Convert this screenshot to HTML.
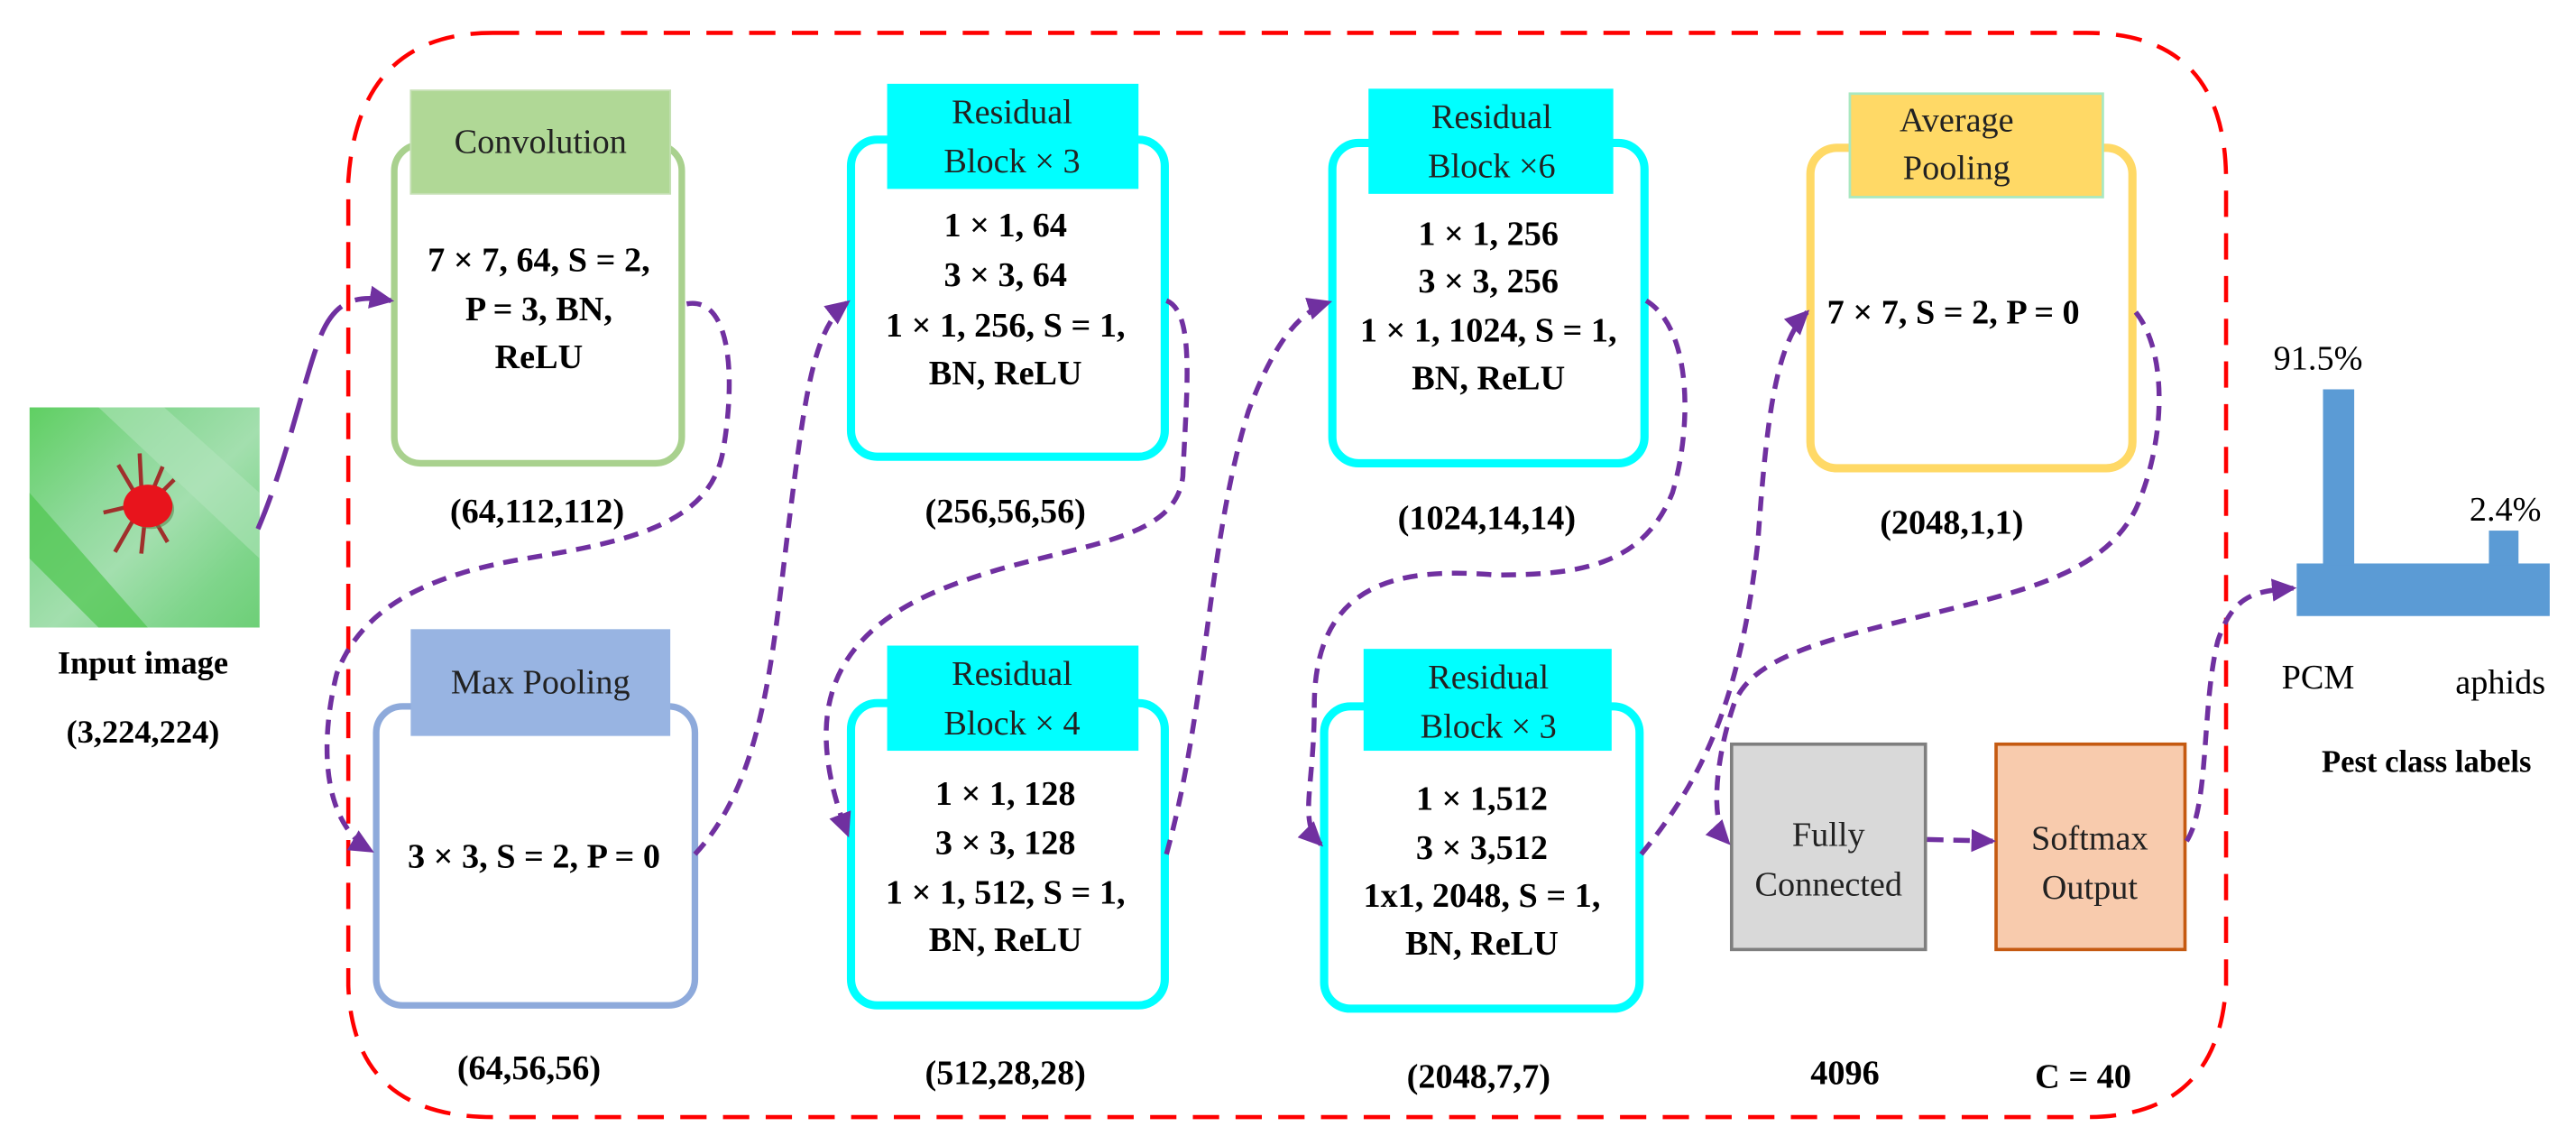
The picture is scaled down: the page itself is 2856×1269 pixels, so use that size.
<!DOCTYPE html>
<html><head><meta charset="utf-8"><style>
html,body{margin:0;padding:0;background:#fff;}
svg{display:block;}
text{font-family:"Liberation Serif",serif;}
.b{font-weight:bold;font-size:21px;fill:#000;text-anchor:middle;}
.h{font-size:21px;fill:#222;text-anchor:middle;}
</style></head><body>
<svg width="2856" height="1269" viewBox="0 0 1568 697" preserveAspectRatio="none" xmlns="http://www.w3.org/2000/svg">
<defs>
<marker id="ar2" markerWidth="16" markerHeight="16" refX="13" refY="8" orient="auto" markerUnits="userSpaceOnUse">
<path d="M0,1 L15,8 L0,15 Z" fill="#7030a0"/>
</marker>
<linearGradient id="leaf" x1="0" y1="0" x2="1" y2="1">
<stop offset="0" stop-color="#5fcf62"/><stop offset="0.35" stop-color="#8ed99a"/><stop offset="0.55" stop-color="#a3dfae"/><stop offset="0.8" stop-color="#7fd58b"/><stop offset="1" stop-color="#6dcf77"/>
</linearGradient>
</defs>
<style>.c{fill:none;stroke:#7030a0;stroke-width:3;stroke-dasharray:9,6;marker-end:url(#ar2);}</style>

<path d="M300,20 L1270,20 Q1355,20 1355,110 L1355,600 Q1350,680 1270,680 L300,680 Q215,680 212,600 L212,110 Q218,20 300,20 Z" fill="none" stroke="#ff0000" stroke-width="2.5" stroke-dasharray="16,10"/>

<rect x="18" y="248" width="140" height="134" fill="url(#leaf)"/>
<path d="M18,300 L90,382 L60,382 L18,340 Z" fill="#4fc64f" opacity="0.7"/>
<path d="M60,248 L158,340 L158,300 L100,248 Z" fill="#b6e6c0" opacity="0.5"/>
<g stroke="#a0302c" stroke-width="2.5" fill="none">
<path d="M82,300 L72,283 M86,296 L85,276 M94,296 L99,284 M80,308 L63,312 M82,315 L70,336 M88,318 L86,337 M95,318 L102,330 M98,300 L106,292"/>
</g>
<ellipse cx="92" cy="310" rx="14" ry="12" fill="#5a8a50" opacity="0.6"/>
<ellipse cx="90" cy="308" rx="15" ry="13" fill="#e8141c"/>

<text class="b" x="87" y="410" style="font-size:20px">Input image</text>
<text class="b" x="87" y="452" style="font-size:20px">(3,224,224)</text>

<rect x="240" y="88" width="175" height="194" rx="16" fill="#fff" stroke="#a9d18e" stroke-width="4"/>
<rect x="250" y="55" width="158" height="63" fill="#b0d896" stroke="#c5e0b4" stroke-width="1"/>
<text class="h" x="329" y="93">Convolution</text>
<text class="b" x="328" y="165">7 × 7, 64, S = 2,</text>
<text class="b" x="328" y="195">P = 3, BN,</text>
<text class="b" x="328" y="224">ReLU</text>
<text class="b" x="327" y="318">(64,112,112)</text>

<rect x="229" y="430" width="194" height="182" rx="16" fill="#fff" stroke="#8eaadb" stroke-width="4"/>
<rect x="250" y="383" width="158" height="65" fill="#98b4e2"/>
<text class="h" x="329" y="422">Max Pooling</text>
<text class="b" x="325" y="528">3 × 3, S = 2, P = 0</text>
<text class="b" x="322" y="657">(64,56,56)</text>

<rect x="518" y="85" width="191" height="193" rx="16" fill="#fff" stroke="#00ffff" stroke-width="5"/>
<rect x="540" y="51" width="153" height="64" fill="#00ffff"/>
<text class="h" x="616" y="75">Residual</text>
<text class="h" x="616" y="105">Block × 3</text>
<text class="b" x="612" y="144">1 × 1, 64</text>
<text class="b" x="612" y="174">3 × 3, 64</text>
<text class="b" x="612" y="205">1 × 1, 256, S = 1,</text>
<text class="b" x="612" y="234">BN, ReLU</text>
<text class="b" x="612" y="318">(256,56,56)</text>

<rect x="518" y="428" width="191" height="184" rx="16" fill="#fff" stroke="#00ffff" stroke-width="5"/>
<rect x="540" y="393" width="153" height="64" fill="#00ffff"/>
<text class="h" x="616" y="417">Residual</text>
<text class="h" x="616" y="447">Block × 4</text>
<text class="b" x="612" y="490">1 × 1, 128</text>
<text class="b" x="612" y="520">3 × 3, 128</text>
<text class="b" x="612" y="550">1 × 1, 512, S = 1,</text>
<text class="b" x="612" y="579">BN, ReLU</text>
<text class="b" x="612" y="660">(512,28,28)</text>

<rect x="811" y="87" width="190" height="195" rx="16" fill="#fff" stroke="#00ffff" stroke-width="5"/>
<rect x="833" y="54" width="149" height="64" fill="#00ffff"/>
<text class="h" x="908" y="78">Residual</text>
<text class="h" x="908" y="108">Block ×6</text>
<text class="b" x="906" y="149">1 × 1, 256</text>
<text class="b" x="906" y="178">3 × 3, 256</text>
<text class="b" x="906" y="208">1 × 1, 1024, S = 1,</text>
<text class="b" x="906" y="237">BN, ReLU</text>
<text class="b" x="905" y="322">(1024,14,14)</text>

<rect x="806" y="430" width="192" height="184" rx="16" fill="#fff" stroke="#00ffff" stroke-width="5"/>
<rect x="830" y="395" width="151" height="62" fill="#00ffff"/>
<text class="h" x="906" y="419">Residual</text>
<text class="h" x="906" y="449">Block ×  3</text>
<text class="b" x="902" y="493">1 × 1,512</text>
<text class="b" x="902" y="523">3 × 3,512</text>
<text class="b" x="902" y="552">1x1, 2048, S = 1,</text>
<text class="b" x="902" y="581">BN, ReLU</text>
<text class="b" x="900" y="662">(2048,7,7)</text>

<rect x="1102" y="90" width="196" height="195" rx="16" fill="#fff" stroke="#ffd966" stroke-width="5"/>
<rect x="1126" y="57" width="154" height="63" fill="#ffd966" stroke="#a9e8c0" stroke-width="1.5"/>
<text class="h" x="1191" y="80">Average</text>
<text class="h" x="1191" y="109">Pooling</text>
<text class="b" x="1189" y="197">7 × 7, S = 2, P = 0</text>
<text class="b" x="1188" y="325">(2048,1,1)</text>

<rect x="1054" y="453" width="118" height="125" fill="#d9d9d9" stroke="#7f7f7f" stroke-width="2"/>
<text class="h" x="1113" y="515">Fully</text>
<text class="h" x="1113" y="545">Connected</text>
<text class="b" x="1123" y="660">4096</text>

<rect x="1215" y="453" width="115" height="125" fill="#f8cbad" stroke="#c55a11" stroke-width="2"/>
<text class="h" x="1272" y="517">Softmax</text>
<text class="h" x="1272" y="547">Output</text>
<text class="b" x="1268" y="662">C = 40</text>

<rect x="1398" y="343" width="154" height="32" fill="#5b9bd5"/>
<rect x="1414" y="237" width="19" height="107" fill="#5b9bd5"/>
<rect x="1515" y="323" width="18" height="21" fill="#5b9bd5"/>
<text class="h" x="1411" y="225" style="fill:#000">91.5%</text>
<text class="h" x="1525" y="317" style="fill:#000">2.4%</text>
<text class="h" x="1411" y="419" style="fill:#000">PCM</text>
<text class="h" x="1522" y="422" style="fill:#000">aphids</text>
<text class="b" x="1477" y="470" style="font-size:19px">Pest class labels</text>

<path class="c" d="M157,322 C175,280 185,230 195,205 C205,180 220,180 238,183" style="stroke-dasharray:22,9"/>
<path class="c" d="M418,185 C445,180 448,230 440,275 C432,320 380,330 320,340 C260,350 220,370 205,410 C195,450 195,500 226,518"/>
<path class="c" d="M423,520 C465,475 470,400 480,320 C490,240 495,200 516,184"/>
<path class="c" d="M710,183 C728,190 722,240 720,290 C715,335 640,330 570,360 C500,390 490,440 516,508"/>
<path class="c" d="M710,520 C735,430 735,330 760,250 C775,210 790,190 809,184"/>
<path class="c" d="M1002,183 C1030,200 1030,260 1018,300 C1000,345 960,350 910,350 C850,345 800,355 800,430 C800,480 790,500 804,514"/>
<path class="c" d="M999,520 C1040,470 1060,420 1070,330 C1075,260 1080,210 1100,190"/>
<path class="c" d="M1300,190 C1320,215 1318,270 1300,310 C1280,350 1230,360 1170,375 C1110,390 1065,400 1055,430 C1045,460 1040,500 1052,513"/>
<path class="c" d="M1173,511 L1213,512" style="stroke-dasharray:10,6"/>
<path class="c" d="M1331,512 C1345,490 1340,430 1350,390 C1360,360 1375,360 1396,358"/>
</svg>
</body></html>
